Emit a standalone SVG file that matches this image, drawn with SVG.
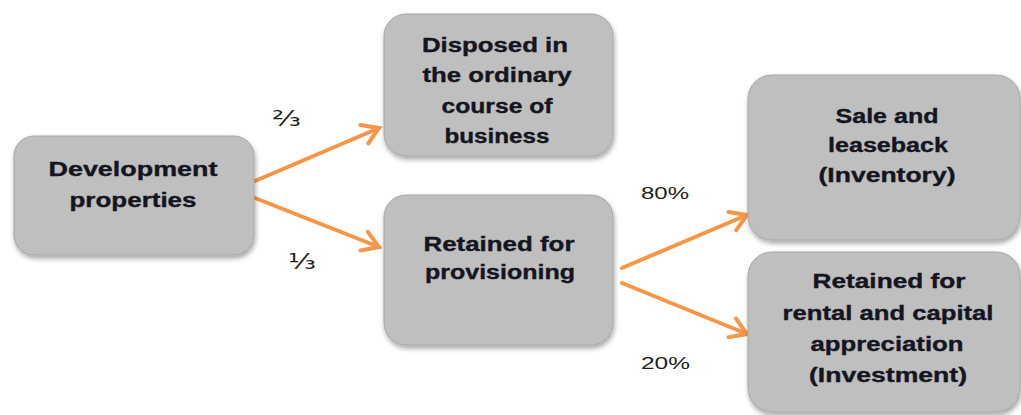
<svg xmlns="http://www.w3.org/2000/svg" width="1021" height="415" viewBox="0 0 1021 415">
<defs>
<filter id="sh" x="-10%" y="-10%" width="120%" height="130%">
<feDropShadow dx="1" dy="3" stdDeviation="2.5" flood-color="#000" flood-opacity="0.35"/>
</filter>
<marker id="ah" markerUnits="userSpaceOnUse" markerWidth="30" markerHeight="30" refX="20" refY="12" orient="auto" viewBox="0 0 30 24">
<path d="M4,2 L20,12 L4,22" fill="none" stroke="#f79646" stroke-width="4" stroke-linecap="round" stroke-linejoin="miter"/>
</marker>
</defs>
<style>
.box{fill:#bfbfbf;stroke:#a6a6a6;stroke-width:1;filter:url(#sh)}
.t{font-family:"Liberation Sans",Arial,sans-serif;font-weight:bold;font-size:19.5px;fill:#15151f;stroke:#15151f;stroke-width:0.35;text-anchor:middle}
.l{font-family:"Liberation Sans",Arial,sans-serif;font-size:17px;fill:#222}
.f{font-family:"DejaVu Sans",sans-serif;font-size:22px;fill:#222}
.c{fill:none;stroke:#f79646;stroke-width:4;stroke-linecap:round;marker-end:url(#ah)}
</style>
<rect width="1021" height="415" fill="#fff"/>
<g id="connectors">
<line class="c" x1="255" y1="181" x2="379" y2="128"/>
<line class="c" x1="255" y1="198" x2="379" y2="247"/>
<line class="c" x1="622" y1="268" x2="747" y2="215"/>
<line class="c" x1="622" y1="283" x2="747" y2="334"/>
</g>
<g id="labels">
<text class="f" x="272" y="126" textLength="29" lengthAdjust="spacingAndGlyphs">⅔</text>
<text class="f" x="288" y="269" textLength="28" lengthAdjust="spacingAndGlyphs">⅓</text>
<text class="l" x="641" y="199" textLength="48" lengthAdjust="spacingAndGlyphs">80%</text>
<text class="l" x="641" y="369" textLength="49" lengthAdjust="spacingAndGlyphs">20%</text>
</g>
<g id="development">
<rect class="box" x="14" y="136" width="240" height="119" rx="20"/>
<text class="t" x="133" y="176" textLength="169" lengthAdjust="spacingAndGlyphs">Development</text>
<text class="t" x="133" y="207" textLength="127" lengthAdjust="spacingAndGlyphs">properties</text>
</g>
<g id="disposed">
<rect class="box" x="384" y="14" width="229" height="142" rx="22"/>
<text class="t" x="495" y="52" textLength="146" lengthAdjust="spacingAndGlyphs">Disposed in</text>
<text class="t" x="497" y="82" textLength="149" lengthAdjust="spacingAndGlyphs">the ordinary</text>
<text class="t" x="497" y="113" textLength="111" lengthAdjust="spacingAndGlyphs">course of</text>
<text class="t" x="497" y="143" textLength="105" lengthAdjust="spacingAndGlyphs">business</text>
</g>
<g id="provisioning">
<rect class="box" x="384" y="195" width="229" height="150" rx="22"/>
<text class="t" x="499" y="251" textLength="151" lengthAdjust="spacingAndGlyphs">Retained for</text>
<text class="t" x="500" y="279" textLength="150" lengthAdjust="spacingAndGlyphs">provisioning</text>
</g>
<g id="sale">
<rect class="box" x="748" y="75" width="272" height="165" rx="24"/>
<text class="t" x="887" y="123" textLength="103" lengthAdjust="spacingAndGlyphs">Sale and</text>
<text class="t" x="888" y="152" textLength="120" lengthAdjust="spacingAndGlyphs">leaseback</text>
<text class="t" x="887" y="182" textLength="137" lengthAdjust="spacingAndGlyphs">(Inventory)</text>
</g>
<g id="investment">
<rect class="box" x="748" y="252" width="272" height="160" rx="24"/>
<text class="t" x="889" y="288" textLength="153" lengthAdjust="spacingAndGlyphs">Retained for</text>
<text class="t" x="888" y="320" textLength="211" lengthAdjust="spacingAndGlyphs">rental and capital</text>
<text class="t" x="887" y="351" textLength="153" lengthAdjust="spacingAndGlyphs">appreciation</text>
<text class="t" x="888" y="382" textLength="158" lengthAdjust="spacingAndGlyphs">(Investment)</text>
</g>
</svg>
